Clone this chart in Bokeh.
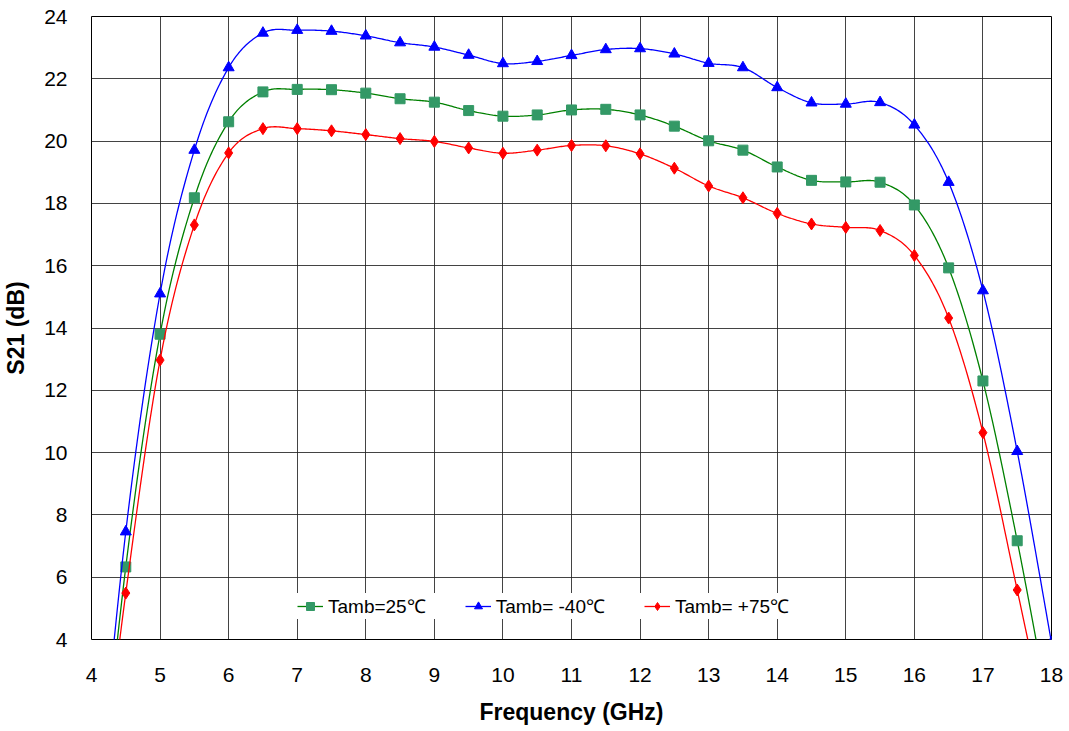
import numpy as np
from bokeh.plotting import figure
from bokeh.models import Legend, LegendItem, FixedTicker, Range1d
from bokeh.embed import file_html
from bokeh.resources import INLINE

# Frequency points (GHz); points at 4 and 18 fall below the visible range
freq = [4.0, 4.5, 5.0, 5.5, 6.0, 6.5, 7.0, 7.5, 8.0, 8.5, 9.0, 9.5, 10.0, 10.5,
        11.0, 11.5, 12.0, 12.5, 13.0, 13.5, 14.0, 14.5, 15.0, 15.5, 16.0,
        16.5, 17.0, 17.5, 18.0]

s21_25 = [-4.0, 6.33, 13.80, 18.18, 20.62, 21.58, 21.66, 21.65, 21.54, 21.36,
          21.25, 20.98, 20.80, 20.84, 21.00, 21.02, 20.84, 20.48, 20.01, 19.71,
          19.17, 18.74, 18.69, 18.68, 17.95, 15.93, 12.30, 7.17, 1.3]
s21_m40 = [-3.5, 7.46, 15.10, 19.71, 22.36, 23.47, 23.56, 23.53, 23.38, 23.16,
           23.02, 22.76, 22.49, 22.56, 22.75, 22.94, 22.97, 22.80, 22.50, 22.36,
           21.72, 21.23, 21.19, 21.24, 20.52, 18.68, 15.20, 10.04, 3.9]
s21_p75 = [-3.5, 5.49, 12.97, 17.31, 19.62, 20.40, 20.40, 20.33, 20.21, 20.08,
           19.99, 19.78, 19.61, 19.71, 19.86, 19.85, 19.59, 19.13, 18.56, 18.18,
           17.68, 17.34, 17.23, 17.13, 16.33, 14.32, 10.64, 5.59, 0.4]

labels = ["Tamb=25\u2103", "Tamb= -40\u2103", "Tamb= +75\u2103"]

x_ticks = list(range(4, 19))
y_ticks = list(range(4, 25, 2))


def smooth(xs, ys, n=24):
    xs = np.asarray(xs, float)
    ys = np.asarray(ys, float)
    m = len(xs)
    ox, oy = [], []
    for i in range(m - 1):
        i0 = max(i - 1, 0)
        i3 = min(i + 2, m - 1)
        p0 = np.array([xs[i0], ys[i0]])
        p1 = np.array([xs[i], ys[i]])
        p2 = np.array([xs[i + 1], ys[i + 1]])
        p3 = np.array([xs[i3], ys[i3]])
        c1 = p1 + (p2 - p0) / 6.0
        c2 = p2 - (p3 - p1) / 6.0
        t = np.linspace(0, 1, n, endpoint=(i == m - 2))
        b = ((1 - t) ** 3)[:, None] * p1 + (3 * (1 - t) ** 2 * t)[:, None] * c1 \
            + (3 * (1 - t) * t ** 2)[:, None] * c2 + (t ** 3)[:, None] * p2
        ox.extend(b[:, 0])
        oy.extend(b[:, 1])
    return ox, oy


p = figure(width=1069, height=731, output_backend="svg", toolbar_location=None,
           x_range=Range1d(4, 18), y_range=Range1d(4, 24),
           min_border_left=91, min_border_right=18, min_border_top=16,
           min_border_bottom=92)

p.outline_line_color = "#000000"
p.outline_line_width = 1

for ax in (p.xaxis, p.yaxis):
    ax.axis_line_color = None
    ax.major_tick_line_color = None
    ax.minor_tick_line_color = None
    ax.major_label_text_font = "Liberation Sans"
    ax.major_label_text_font_size = "21px"
    ax.major_label_text_color = "#000000"
    ax.axis_label_text_font = "Liberation Sans"
    ax.axis_label_text_font_size = "23px"
    ax.axis_label_text_font_style = "bold"
    ax.axis_label_text_color = "#000000"

p.xaxis.ticker = FixedTicker(ticks=x_ticks)
p.yaxis.ticker = FixedTicker(ticks=y_ticks)
p.xaxis.major_label_standoff = 22
p.yaxis.major_label_standoff = 18
p.xaxis.axis_label = "Frequency (GHz)"
p.yaxis.axis_label = "S21 (dB)"
p.xaxis.axis_label_standoff = 14
p.yaxis.axis_label_standoff = 12

p.xgrid.grid_line_color = "#222222"
p.ygrid.grid_line_color = "#222222"
p.xgrid.grid_line_alpha = 0.85
p.ygrid.grid_line_alpha = 0.85

series = [
    (s21_25, "#008000", "#339966", "square", 10),
    (s21_m40, "#0000ff", "#0000ff", "triangle", 11),
    (s21_p75, "#ff0000", "#ff0000", "diamond", 12),
]

items = []
for (ys, lc, mc, mk, sz), lab in zip(series, labels):
    sx, sy = smooth(freq, ys)
    r1 = p.line(sx, sy, line_color=lc, line_width=1.3)
    r2 = p.scatter(freq, ys, marker=mk, size=sz, fill_color=mc, line_color=mc)
    items.append(LegendItem(label=lab, renderers=[r1, r2]))

legend = Legend(items=items, orientation="horizontal", location=(206, 20),
                background_fill_color="white", background_fill_alpha=1.0,
                border_line_color=None, glyph_width=26, glyph_height=20,
                label_standoff=5, spacing=39, padding=4, margin=0,
                label_text_font="Liberation Sans", label_text_font_size="19px",
                label_text_color="#000000")
p.add_layout(legend, "center")

open("out.html", "w").write(file_html(p, INLINE))
